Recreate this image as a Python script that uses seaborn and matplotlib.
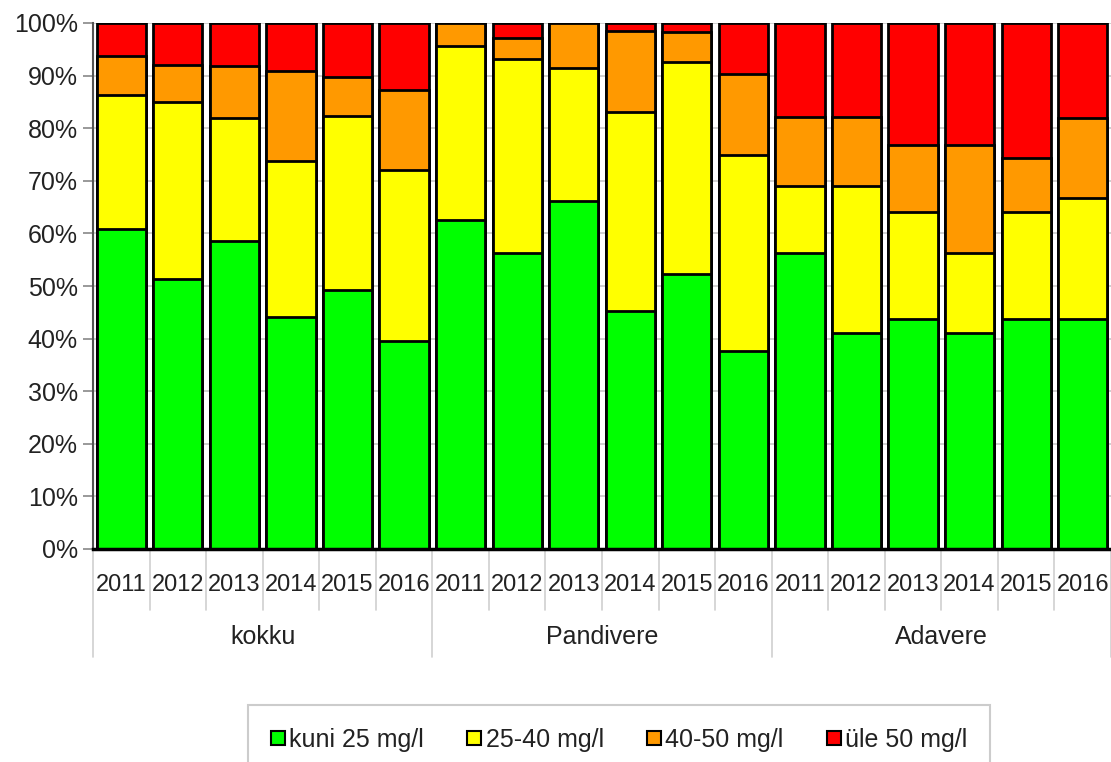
import matplotlib
matplotlib.use("Agg")
import matplotlib.pyplot as plt
from matplotlib.lines import Line2D
from matplotlib import font_manager
import seaborn as sns
import pandas as pd
import numpy as np

groups = ["kokku", "Pandivere", "Adavere"]
years = ["2011", "2012", "2013", "2014", "2015", "2016"]
series_names = ["kuni 25 mg/l", "25-40 mg/l", "40-50 mg/l", "üle 50 mg/l"]
colors = ["#00FF00", "#FFFF00", "#FF9900", "#FF0000"]

green = [60.8, 51.3, 58.6, 44.2, 49.2, 39.6,
         62.5, 56.3, 66.2, 45.2, 52.2, 37.6,
         56.3, 41.1, 43.7, 41.1, 43.7, 43.7]
yellow = [25.5, 33.6, 23.3, 29.6, 33.1, 32.5,
          33.2, 36.8, 25.3, 37.8, 40.4, 37.3,
          12.8, 28.0, 20.3, 15.2, 20.3, 23.0]
orange = [7.4, 7.1, 10.0, 17.1, 7.4, 15.2,
          4.3, 4.1, 8.5, 15.5, 5.7, 15.4,
          13.0, 13.0, 12.8, 20.5, 10.3, 15.3]
red = [6.3, 8.0, 8.1, 9.1, 10.3, 12.7,
       0.0, 2.8, 0.0, 1.5, 1.7, 9.7,
       17.9, 17.9, 23.2, 23.2, 25.7, 18.0]

cats = [f"{g} {y}" for g in groups for y in years]
df = pd.DataFrame({"cat": cats, "g": green, "y": yellow, "o": orange, "r": red})
df["c_g"] = df["g"]
df["c_y"] = df["c_g"] + df["y"]
df["c_o"] = df["c_y"] + df["o"]
df["c_r"] = df["c_o"] + df["r"]

sns.set_theme(style="white")
names = {f.name for f in font_manager.fontManager.ttflist}
fam = ["Liberation Sans Narrow"] if "Liberation Sans Narrow" in names else ["Liberation Sans"]
plt.rcParams["font.family"] = fam + ["DejaVu Sans"]

W, H = 1111, 762
fig = plt.figure(figsize=(W / 100, H / 100), dpi=100)
ax = fig.add_axes([93 / W, (H - 549) / H, (W - 93) / W, (549 - 23) / H])

ax.set_axisbelow(True)
for v in range(10, 101, 10):
    ax.axhline(v, color="#c8c8c8", lw=1.2, zorder=0)

for col, c in zip(["c_r", "c_o", "c_y", "c_g"], colors[::-1]):
    sns.barplot(data=df, x="cat", y=col, order=cats, color=c, width=0.87,
                edgecolor="black", linewidth=2.0, saturation=1, ax=ax, zorder=2)

ax.set_xlim(-0.5, len(cats) - 0.5)
ax.set_ylim(0, 100)
ax.set_yticks(range(0, 101, 10))
ax.set_yticklabels([f"{v}%" for v in range(0, 101, 10)], fontsize=18, color="#222222")
ax.tick_params(axis="y", length=7, width=1.2, color="#888888", pad=4, left=True)
ax.set_xticks(range(len(cats)))
ax.set_xticklabels(years * 3, fontsize=17, color="#222222")
ax.tick_params(axis="x", length=0, pad=18)
ax.set_xlabel("")
ax.set_ylabel("")

for s in ["top", "right"]:
    ax.spines[s].set_visible(False)
ax.spines["left"].set_color("#555555")
ax.spines["left"].set_linewidth(1.5)
ax.spines["bottom"].set_color("black")
ax.spines["bottom"].set_linewidth(2.5)
ax.spines["bottom"].set_zorder(5)

trans = ax.get_xaxis_transform()
for i in range(len(cats) + 1):
    xpos = i - 0.5
    if i % 6 == 0:
        ax.plot([xpos, xpos], [0, -0.205], transform=trans, color="#d0d0d0",
                lw=1.2, clip_on=False, zorder=1)
    else:
        ax.plot([xpos, xpos], [0, -0.116], transform=trans, color="#d0d0d0",
                lw=1.2, clip_on=False, zorder=1)

for gi, g in enumerate(groups):
    ax.text(gi * 6 + 2.5, -0.168, g, transform=trans, ha="center", va="center",
            fontsize=18, color="#222222")

handles = [Line2D([0], [0], marker="s", linestyle="none", markersize=10,
                  markerfacecolor=c, markeredgecolor="black", markeredgewidth=1.5)
           for c in colors]
top = (H - 705) / H
leg = fig.legend(handles, series_names, loc="upper left",
                 bbox_to_anchor=(248 / W, top - 0.1, 742 / W, 0.1), mode="expand",
                 ncol=4, frameon=True, fancybox=False, fontsize=18,
                 handlelength=0.6, handletextpad=0.15, borderpad=0.9,
                 borderaxespad=0)
leg.get_frame().set_edgecolor("#c0c0c0")
leg.get_frame().set_linewidth(1.5)
for t in leg.get_texts():
    t.set_color("#222222")

fig.savefig("out.png", dpi=100)
